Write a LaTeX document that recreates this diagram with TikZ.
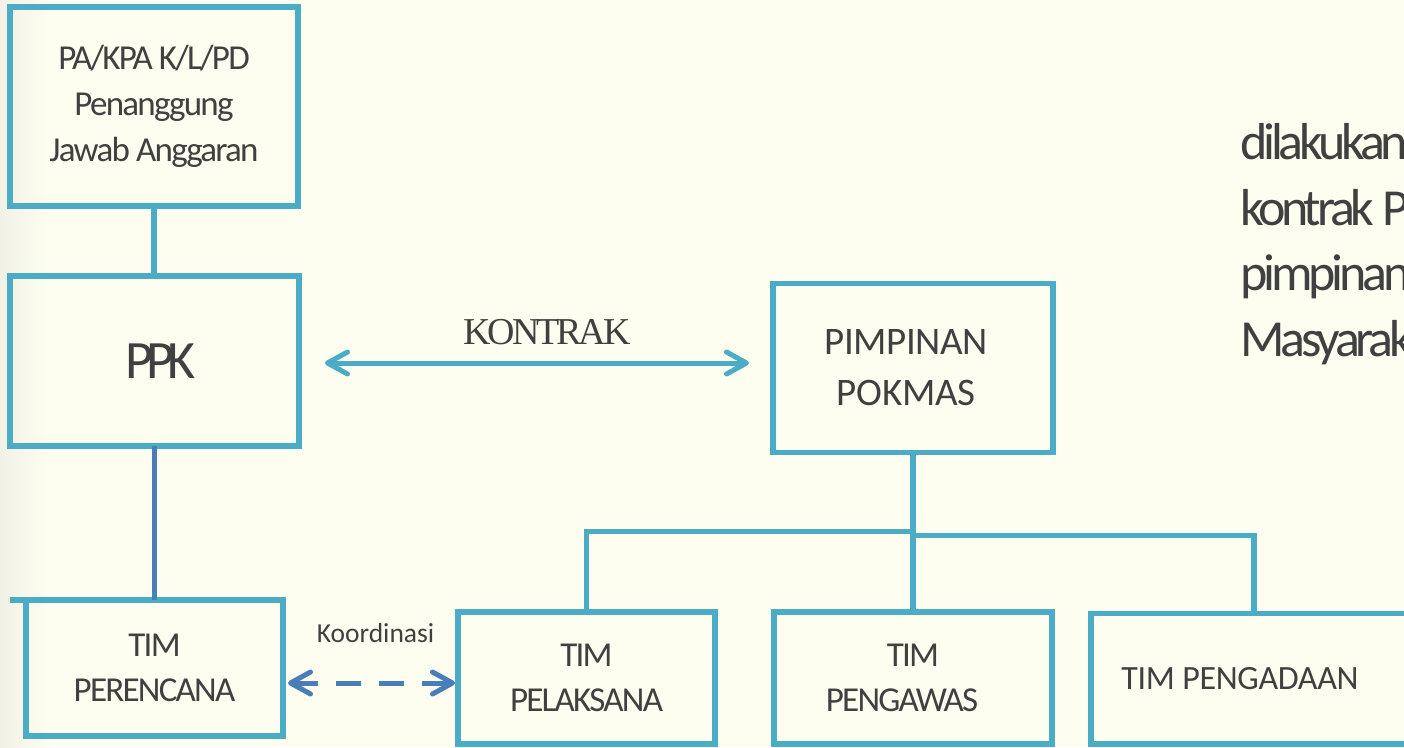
\documentclass[tikz,border=0pt]{standalone}
\usepackage{fontspec}
\setmainfont{Carlito}
\newfontfamily\kontrakfont{Liberation Serif}
\usetikzlibrary{arrows.meta}
\definecolor{bgcream}{RGB}{253,254,240}
\definecolor{bgedge}{RGB}{241,242,229}
\definecolor{boxblue}{RGB}{75,172,198}
\definecolor{lineblue}{RGB}{74,126,187}
\definecolor{textgray}{RGB}{64,64,64}
\newcommand\boxtype[3]{\fontsize{#1}{#2}\selectfont\addfontfeatures{LetterSpace=#3}}
\tikzset{box/.style = {draw = boxblue, line width = 5.5pt, outer sep = 0, inner sep = 0, text = textgray, align = center}}
\tikzset{link/.style = {draw = boxblue, line width = 5.5pt}}
\tikzset{twoway/.style = {line width = 5pt, <->, >={Straight Barb[length = 20pt, width = 22pt, round]}}}

\begin{document}
\begin{tikzpicture}[x = 1pt, y = -1pt]
    \useasboundingbox (0, 0) rectangle (1404, 747);
    \clip (0, 0) rectangle (1404, 747);
    \fill[bgcream] (0, 0) rectangle (1404, 747);
    \shade[left color = bgedge, right color = bgcream] (0, 0) rectangle (50, 747);

    % left column
    \node[box, minimum width = 288pt, minimum height = 199pt, font = \boxtype{35}{46}{-5}] (pa) at (154, 106.5) {PA/KPA K/L/PD\\Penanggung\\Jawab Anggaran};
    \node[box, minimum width = 289pt, minimum height = 170pt, font = \boxtype{54}{60}{-12}] (ppk) at (154.5, 361) {\hspace*{12pt}PPK};
    \node[box, minimum width = 257pt, minimum height = 136pt, font = \boxtype{35}{45}{-5}] (perencana) at (154.5, 668) {TIM\\PERENCANA};

    % pokmas
    \node[box, minimum width = 280pt, minimum height = 169pt, font = \boxtype{39}{51}{-1}] (pimpinan) at (913, 368) {PIMPINAN\hspace*{14pt}\\POKMAS\hspace*{14pt}};
    \node[box, minimum width = 257pt, minimum height = 132pt, font = \boxtype{35}{45}{-5}] (pelaksana) at (586.5, 678) {TIM\\PELAKSANA};
    \node[box, minimum width = 278pt, minimum height = 132pt, font = \boxtype{35}{45}{-5}] (pengawas) at (913, 678) {TIM\\PENGAWAS\hspace*{22pt}};
    \node[box, minimum width = 326pt, minimum height = 130.5pt, font = \boxtype{34}{40}{-1}] (pengadaan) at (1254, 678.75) {TIM PENGADAAN\hspace*{28pt}};

    \draw[link] (pa.south) -- (pa.south |- ppk.north);
    \draw[link, draw = lineblue] (ppk.south) -- (ppk.south |- perencana.north);
    \draw[link] (perencana.north west) -- ++(-16, 0);
    \draw[link] (pimpinan.south) -- (pimpinan.south |- pengawas.north);
    \draw[link] (pimpinan.south) ++(0, 79) -| (pelaksana.north);
    \draw[link] (pimpinan.south) ++(0, 83) -| (pengadaan.north);

    \draw[twoway, boxblue, shorten <= 26pt, shorten >= 24pt] ([yshift = -2pt]ppk.east) -- ([yshift = -2pt]ppk.east -| pimpinan.west)
        node[midway, above = 16pt, xshift = 11pt, inner sep = 0, text = textgray, font = \kontrakfont\fontsize{38}{44}\selectfont\addfontfeatures{LetterSpace=-8}] (kontrak) {KONTRAK};
    \draw[twoway, lineblue, dash pattern = on 25pt off 18pt, shorten <= 5pt, shorten >= 3pt] ([yshift = -15pt]perencana.east) -- ([yshift = -15pt]perencana.east -| pelaksana.west)
        node[midway, above = 38pt, xshift = 5pt, inner sep = 0, text = textgray, font = \fontsize{27.5}{33}\selectfont] (koord) {Koordinasi};

    \node[anchor = base west, inner sep = 0, align = left, text = textgray, font = \boxtype{52}{65.5}{-8}] (note) at (1240, 356) {dilakukan\\kontrak PPK\\pimpinan\\Masyarakat};
\end{tikzpicture}
\end{document}
